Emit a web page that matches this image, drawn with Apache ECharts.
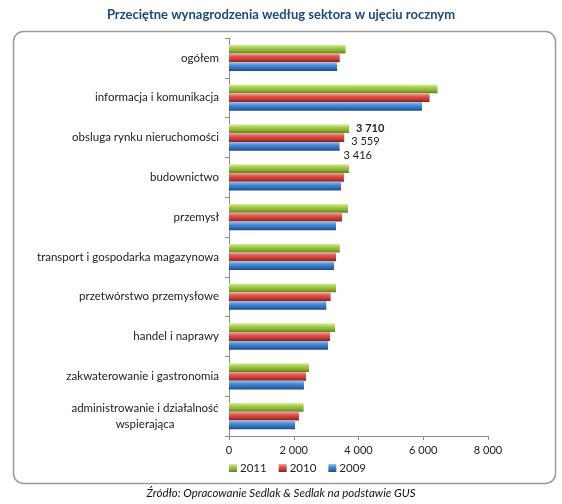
<!DOCTYPE html>
<html>
<head>
<meta charset="utf-8">
<script src="https://cdn.jsdelivr.net/npm/echarts@6/dist/echarts.min.js"></script>
<style>html,body{margin:0;padding:0;background:#fff}#c{width:562px;height:504px}</style>
</head>
<body>
<div id="c"></div>
<script>
var categories = ['ogółem','informacja i komunikacja','obsługa rynku nieruchomości','budownictwo','przemysł','transport i gospodarka magazynowa','przetwórstwo przemysłowe','handel i naprawy','zakwaterowanie i gastronomia','administrowanie i działalność wspierająca'];
var categoryLabels = ['ogółem','informacja i komunikacja','obsluga rynku nieruchomości','budownictwo','przemysł','transport i gospodarka magazynowa','przetwórstwo przemysłowe','handel i naprawy','zakwaterowanie i gastronomia','administrowanie i działalność\nwspierająca'];
var v2011 = [3600, 6440, 3710, 3705, 3675, 3420, 3305, 3275, 2470, 2305];
var v2010 = [3420, 6195, 3559, 3550, 3490, 3305, 3140, 3120, 2380, 2160];
var v2009 = [3340, 5960, 3416, 3460, 3305, 3245, 3005, 3060, 2315, 2040];
var xTicks = [0, 2000, 4000, 6000, 8000];
var labeledIndex = 2;

function fmt(v){ return String(v).replace(/\B(?=(\d{3})+(?!\d))/g, ' '); }
function grad(a,b,c,d){
  return new echarts.graphic.LinearGradient(0,0,0,1,[
    {offset:0,color:a},{offset:0.35,color:b},{offset:0.7,color:c},{offset:1,color:d}]);
}
var colors = {
  '2011': grad('#D8EEA0','#A6CC4E','#86AD30','#5E7F1C'),
  '2010': grad('#F4A6A2','#DE5650','#C0392F','#8A1F1A'),
  '2009': grad('#9CC6F0','#4D8ED6','#2F6DB8','#1E4B85')
};

function mk(name, vals, lblStyle){
  return {
    name: name, type: 'bar', barGap: '0%', barCategoryGap: '34%',
    itemStyle: {color: colors[name]},
    data: vals.map(function(v,i){
      var d = {value: v};
      if (i === labeledIndex) {
        d.label = Object.assign({show: true, position: 'right', formatter: function(p){return fmt(p.value);},
          fontFamily: 'Lato', fontSize: 11, color: '#222'}, lblStyle);
      }
      return d;
    })
  };
}

var chart = echarts.init(document.getElementById('c'));
chart.setOption({
  animation: false,
  backgroundColor: '#fff',
  title: {
    text: 'Przeciętne wynagrodzenia według sektora w ujęciu rocznym',
    left: 'center', top: 3,
    textStyle: {fontFamily: 'Lato', fontSize: 13, fontWeight: 'bold', color: '#1F497D'}
  },
  graphic: [
    {type: 'rect', shape: {x: 13.5, y: 31.5, width: 542, height: 452, r: 10}, z: -1,
     style: {fill: 'none', stroke: '#9A9A9A', lineWidth: 1.5}},
    {type: 'text', left: 'center', top: 487,
     style: {text: 'Źródło: Opracowanie Sedlak & Sedlak na podstawie GUS', fontFamily: 'Lato', fontSize: 11.5, fontStyle: 'italic', fill: '#111'}}
  ],
  legend: {
    data: ['2011','2010','2009'], left: 224, top: 457, itemWidth: 8, itemHeight: 8, itemGap: 12,
    icon: 'rect',
    textStyle: {fontFamily: 'Lato', fontSize: 11.5, color: '#222', padding: [0,0,0,-2]}
  },
  grid: {left: 229, right: 74, top: 38, bottom: 68},
  xAxis: {
    type: 'value', min: 0, max: 8000, interval: 2000,
    axisLine: {show: true, lineStyle: {color: '#8C8C8C'}},
    axisTick: {show: true, length: 4, lineStyle: {color: '#8C8C8C'}},
    splitLine: {show: false},
    axisLabel: {fontFamily: 'Lato', fontSize: 11, color: '#222', margin: 9,
      formatter: function(v){ return xTicks.indexOf(v) >= 0 ? fmt(v) : ''; }}
  },
  yAxis: {
    type: 'category', inverse: true, data: categories,
    axisLine: {show: true, lineStyle: {color: '#8C8C8C'}},
    axisTick: {show: true, length: 4, lineStyle: {color: '#8C8C8C'}},
    axisLabel: {fontFamily: 'Lato', fontSize: 11.5, color: '#222', margin: 10, lineHeight: 16,
      formatter: function(v, i){
        var t = categoryLabels[i];
        if (t.indexOf('\n') >= 0) {
          return t.split('\n').map(function(s){return '{c|' + s + '}';}).join('\n');
        }
        return t;
      },
      rich: {c: {width: 148, align: 'center', fontFamily: 'Lato', fontSize: 11.5, color: '#222', lineHeight: 16}}
    }
  },
  series: [
    mk('2011', v2011, {fontWeight: 'bold', offset: [2, 0]}),
    mk('2010', v2010, {offset: [2, 4]}),
    mk('2009', v2009, {offset: [-1, 9]})
  ]
});
</script>
</body>
</html>
